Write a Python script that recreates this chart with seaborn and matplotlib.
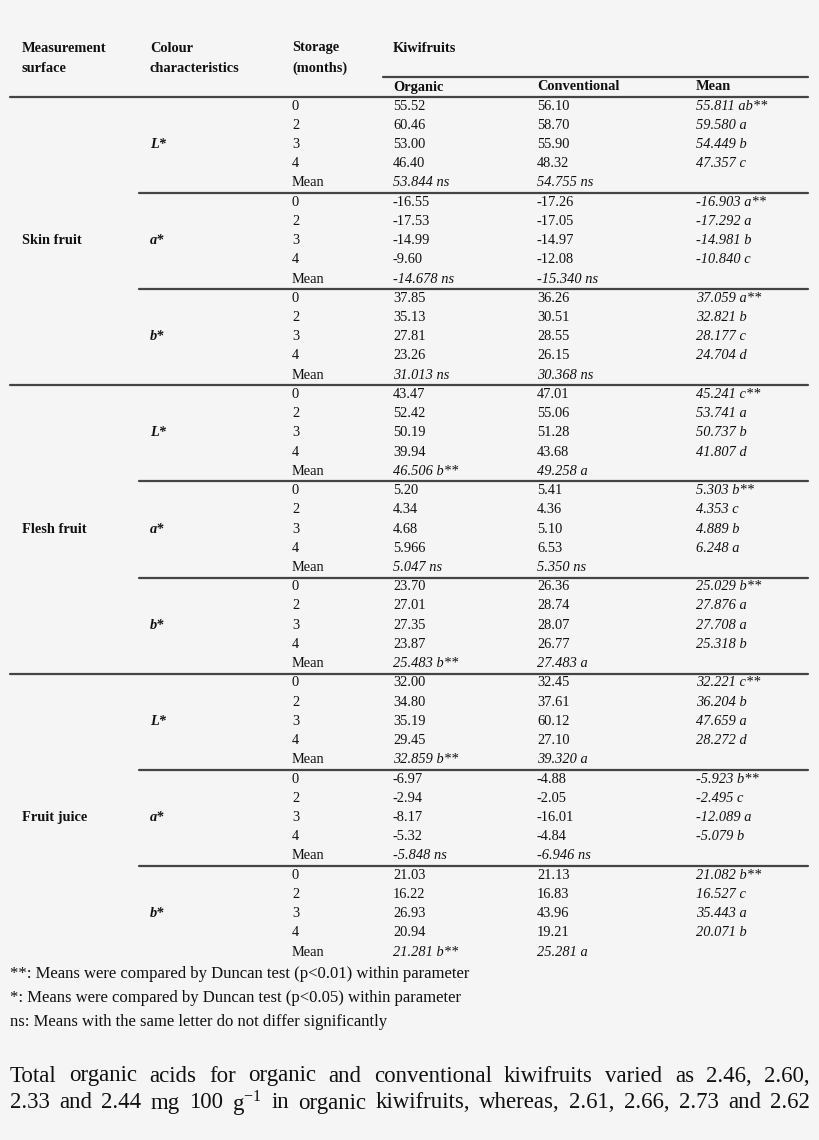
import matplotlib
matplotlib.use("Agg")
import matplotlib.pyplot as plt
import seaborn as sns

sns.set_theme(style="white")
plt.rcParams['font.family'] = ['Liberation Serif', 'DejaVu Serif']
plt.rcParams['mathtext.fontset'] = 'custom'
plt.rcParams['mathtext.rm'] = 'Liberation Serif'

surfaces = ["Skin fruit", "Flesh fruit", "Fruit juice"]
params = ["L*", "a*", "b*"]
storage = ["0", "2", "3", "4", "Mean"]

organic = [
    "55.52", "60.46", "53.00", "46.40", "53.844 ns",
    "-16.55", "-17.53", "-14.99", "-9.60", "-14.678 ns",
    "37.85", "35.13", "27.81", "23.26", "31.013 ns",
    "43.47", "52.42", "50.19", "39.94", "46.506 b**",
    "5.20", "4.34", "4.68", "5.966", "5.047 ns",
    "23.70", "27.01", "27.35", "23.87", "25.483 b**",
    "32.00", "34.80", "35.19", "29.45", "32.859 b**",
    "-6.97", "-2.94", "-8.17", "-5.32", "-5.848 ns",
    "21.03", "16.22", "26.93", "20.94", "21.281 b**",
]
conventional = [
    "56.10", "58.70", "55.90", "48.32", "54.755 ns",
    "-17.26", "-17.05", "-14.97", "-12.08", "-15.340 ns",
    "36.26", "30.51", "28.55", "26.15", "30.368 ns",
    "47.01", "55.06", "51.28", "43.68", "49.258 a",
    "5.41", "4.36", "5.10", "6.53", "5.350 ns",
    "26.36", "28.74", "28.07", "26.77", "27.483 a",
    "32.45", "37.61", "60.12", "27.10", "39.320 a",
    "-4.88", "-2.05", "-16.01", "-4.84", "-6.946 ns",
    "21.13", "16.83", "43.96", "19.21", "25.281 a",
]
mean = [
    "55.811 ab**", "59.580 a", "54.449 b", "47.357 c",
    "-16.903 a**", "-17.292 a", "-14.981 b", "-10.840 c",
    "37.059 a**", "32.821 b", "28.177 c", "24.704 d",
    "45.241 c**", "53.741 a", "50.737 b", "41.807 d",
    "5.303 b**", "4.353 c", "4.889 b", "6.248 a",
    "25.029 b**", "27.876 a", "27.708 a", "25.318 b",
    "32.221 c**", "36.204 b", "47.659 a", "28.272 d",
    "-5.923 b**", "-2.495 c", "-12.089 a", "-5.079 b",
    "21.082 b**", "16.527 c", "35.443 a", "20.071 b",
]
footnotes = [
    "**: Means were compared by Duncan test (p<0.01) within parameter",
    "*: Means were compared by Duncan test (p<0.05) within parameter",
    "ns: Means with the same letter do not differ significantly",
]
para = [
    "Total organic acids for organic and conventional kiwifruits varied as 2.46, 2.60,",
    "2.33 and 2.44 mg 100 g$^{-1}$ in organic kiwifruits, whereas, 2.61, 2.66, 2.73 and 2.62",
]

bg = "#f5f5f5"
fig = plt.figure(figsize=(8.2, 11.4), dpi=100, facecolor=bg)
ax = fig.add_axes([0, 0, 1, 1])
ax.set_facecolor(bg)
ax.set_xlim(0, 820)
ax.set_ylim(1140, 0)
ax.axis("off")

fs = 10.4
col_x = [22, 150, 292, 393, 537, 696]
kw = dict(fontsize=fs, va="center", color="#111111")

# header
ax.text(col_x[0], 48, "Measurement", fontweight="bold", **kw)
ax.text(col_x[0], 68, "surface", fontweight="bold", **kw)
ax.text(col_x[1], 48, "Colour", fontweight="bold", **kw)
ax.text(col_x[1], 68, "characteristics", fontweight="bold", **kw)
ax.text(col_x[2], 48, "Storage", fontweight="bold", **kw)
ax.text(col_x[2], 68, "(months)", fontweight="bold", **kw)
ax.text(col_x[3], 48, "Kiwifruits", fontweight="bold", **kw)
for x, t in zip(col_x[3:], ["Organic", "Conventional", "Mean"]):
    ax.text(x, 87, t, fontweight="bold", **kw)
ax.plot([383, 808], [77, 77], color="#444", lw=1.6)
ax.plot([10, 808], [97, 97], color="#444", lw=1.6)

y0, pitch = 106, 19.23
for i in range(45):
    y = y0 + i * pitch
    s = i % 5
    blk = i // 5
    ax.text(col_x[2], y, storage[s], **kw)
    italic = "italic" if s == 4 else "normal"
    ax.text(col_x[3], y, organic[i], style=italic, **kw)
    ax.text(col_x[4], y, conventional[i], style=italic, **kw)
    if s < 4:
        ax.text(col_x[5], y, mean[blk * 4 + s], style="italic", **kw)
    if s == 2:
        ax.text(col_x[1], y, params[blk % 3][0] + "*", style="italic", fontweight="bold", **kw)
        if blk % 3 == 1:
            ax.text(col_x[0], y, surfaces[blk // 3], fontweight="bold", **kw)
    if s == 4 and blk < 8:
        yl = y + pitch / 2 + 0.5
        x_start = 10 if blk % 3 == 2 else 139
        ax.plot([x_start, 808], [yl, yl], color="#444", lw=1.6)

for j, t in enumerate(footnotes):
    ax.text(10, 974 + j * 24, t, fontsize=12, va="center", color="#111111")

# justified paragraph
fig.canvas.draw()
renderer = fig.canvas.get_renderer()
left, right = 10, 810
for j, line in enumerate(para):
    y = 1076 + j * 27
    words = line.split(" ")
    arts = [ax.text(0, y, w, fontsize=16.5, va="center", color="#111111") for w in words]
    widths = [a.get_window_extent(renderer).width for a in arts]
    gap = (right - left - sum(widths)) / (len(words) - 1)
    x = left
    for a, w in zip(arts, widths):
        a.set_x(x)
        x += w + gap

fig.savefig("out.png", dpi=100, facecolor=bg)
